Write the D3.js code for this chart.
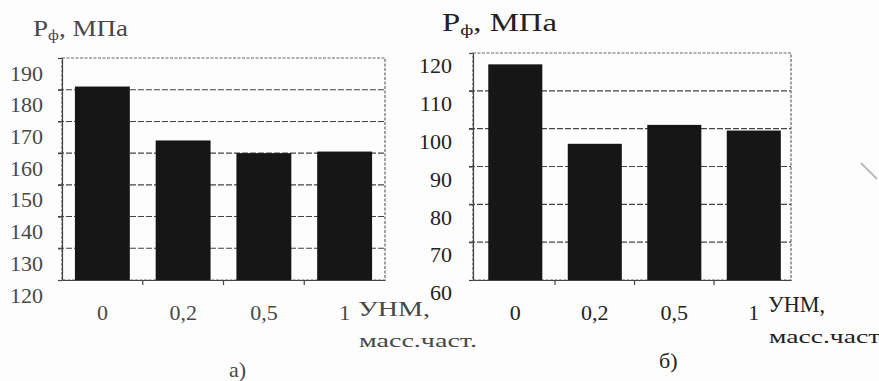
<!DOCTYPE html>
<html>
<head>
<meta charset="utf-8">
<script src="https://cdn.jsdelivr.net/npm/d3@7/dist/d3.min.js"></script>
<style>
body { margin: 0; background: #fdfdfd; }
svg { display: block; }
svg text { font-family: "Liberation Serif", "Times New Roman", Times, serif; }
.grid line { stroke: #444; stroke-width: 1.1; stroke-dasharray: 6,2; }
.frame { fill: none; stroke: #666; stroke-width: 1.2; stroke-dasharray: 3,1.5; }
.axis path, .axis line { stroke: #444; stroke-width: 1.2; }
.bar { fill: #161616; }
</style>
</head>
<body>
<div id="chart"></div>
<script>
// categories on x (УНМ, масс. част.)
var categories = ["0", "0,2", "0,5", "1"];
// panel a) values, MPa
var valuesA = [181, 164, 160, 160.5];
var ticksA = [120, 130, 140, 150, 160, 170, 180, 190];
// panel b) values, MPa
var valuesB = [117, 96, 101, 99.5];
var ticksB = [60, 70, 80, 90, 100, 110, 120];

var FONT = "'Liberation Serif', 'Times New Roman', Times, serif";

var svg = d3.select("#chart").append("svg")
    .attr("width", 879)
    .attr("height", 381)

/**
 * Draws one bar panel with its frame, grid and labels.
 */
function drawPanel(cfg) {
    var g = svg.append("g").attr("font-family", FONT);
    var x = d3.scaleBand()
        .domain(categories)
        .range([cfg.left, cfg.right])
        .paddingInner(0.32)
        .paddingOuter(0.16)
        .align(cfg.align)
    var y = d3.scaleLinear()
        .domain([cfg.ticks[0], cfg.ticks[cfg.ticks.length - 1]])
        .range([cfg.bottom, cfg.top])

    // grid lines (inner ticks only)
    g.append("g")
        .attr("class", "grid")
        .selectAll("line")
        .data(cfg.ticks.slice(1, -1))
        .enter()
        .append("line")
        .attr("x1", cfg.left - 4)
        .attr("x2", cfg.right)
        .attr("y1", function(d) { return y(d); })
        .attr("y2", function(d) { return y(d); })

    // dashed outer frame
    g.append("rect")
        .attr("class", "frame")
        .attr("x", cfg.left)
        .attr("y", y(cfg.ticks[cfg.ticks.length - 1]))
        .attr("width", cfg.right - cfg.left)
        .attr("height", cfg.bottom - y(cfg.ticks[cfg.ticks.length - 1]))

    // bars
    g.selectAll("rect.bar")
        .data(cfg.values)
        .enter()
        .append("rect")
        .attr("class", "bar")
        .attr("x", function(d, i) { return x(categories[i]); })
        .attr("width", x.bandwidth())
        .attr("y", function(d) { return y(d); })
        .attr("height", function(d) { return cfg.bottom - y(d); })

    // y axis
    var yAxis = g.append("g")
        .attr("class", "axis")
        .attr("transform", "translate(" + cfg.left + ",0)")
        .call(d3.axisLeft(y).tickValues(cfg.ticks).tickSize(4).tickSizeOuter(0).tickFormat(d3.format("d")))
    yAxis.attr("font-family", FONT).attr("font-size", cfg.tickSize)
    yAxis.selectAll("text")
        .attr("x", -cfg.labelGap)
        .attr("dy", cfg.labelDy)
        .attr("fill", cfg.color)

    // x axis: solid line, small ticks between bars, labels under bars
    var xAxis = g.append("g")
        .attr("class", "axis")
        .attr("transform", "translate(0," + cfg.bottom + ")")
        .call(d3.axisBottom(x).tickSize(0).tickSizeOuter(0))
    xAxis.attr("font-family", FONT).attr("font-size", cfg.tickSize)
    xAxis.selectAll("text")
        .attr("y", 0)
        .attr("dy", 40)
        .attr("fill", cfg.color)
    var step = x.step();
    xAxis.selectAll("line.sep")
        .data(categories.slice(1))
        .enter()
        .append("line")
        .attr("class", "sep")
        .attr("x1", function(d) { return x(d) - step * x.paddingInner() / 2; })
        .attr("x2", function(d) { return x(d) - step * x.paddingInner() / 2; })
        .attr("y1", 0)
        .attr("y2", 5)

    // title P_ф, МПа
    var title = g.append("text")
        .attr("x", cfg.titleX)
        .attr("y", cfg.titleY)
        .attr("fill", cfg.color)
        .attr("font-size", cfg.titleSize)
        .attr("textLength", cfg.titleLen)
        .attr("lengthAdjust", "spacingAndGlyphs")
    title.append("tspan").text("P")
    title.append("tspan").attr("dy", 4).attr("font-size", cfg.titleSize * 0.62).text("ф")
    title.append("tspan").attr("dy", -4).text(", МПа")

    // axis name
    g.append("text")
        .attr("x", cfg.unitX)
        .attr("y", cfg.unitY)
        .attr("fill", cfg.color)
        .attr("textLength", cfg.unitLen)
        .attr("lengthAdjust", "spacingAndGlyphs")
        .attr("font-size", cfg.unitSize)
        .text("УНМ,")
    g.append("text")
        .attr("x", cfg.unitX + 1)
        .attr("y", cfg.unitY + 31)
        .attr("fill", cfg.color)
        .attr("textLength", cfg.subLen)
        .attr("lengthAdjust", "spacingAndGlyphs")
        .attr("font-size", 19)
        .text("масс.част.")

    // panel letter
    g.append("text")
        .attr("x", cfg.letterX)
        .attr("y", cfg.letterY)
        .attr("fill", cfg.color)
        .attr("font-size", 22)
        .text(cfg.letter)
}

drawPanel({
    values: valuesA, ticks: ticksA,
    left: 62, right: 385, top: 58, bottom: 280, align: 0.5,
    labelGap: 19, labelDy: "1.0em", color: "#484848", tickSize: 22,
    titleX: 33, titleY: 36, titleSize: 23, titleLen: 95,
    unitX: 358, unitY: 316, unitSize: 22, unitLen: 72, subLen: 118,
    letterX: 229, letterY: 377, letter: "а)"
});

drawPanel({
    values: valuesB, ticks: ticksB,
    left: 473, right: 791, top: 53, bottom: 280, align: 0.6,
    labelGap: 21, labelDy: "0.9em", color: "#222", tickSize: 22,
    titleX: 442, titleY: 31, titleSize: 25, titleLen: 115,
    unitX: 768, unitY: 312, unitSize: 24, unitLen: 57, subLen: 116,
    letterX: 659, letterY: 368, letter: "б)"
});

// faint scan mark on the right edge
svg.append("line")
    .attr("x1", 861).attr("y1", 163)
    .attr("x2", 877).attr("y2", 179)
    .attr("stroke", "#bbb")
    .attr("stroke-width", 2)
</script>
</body>
</html>
